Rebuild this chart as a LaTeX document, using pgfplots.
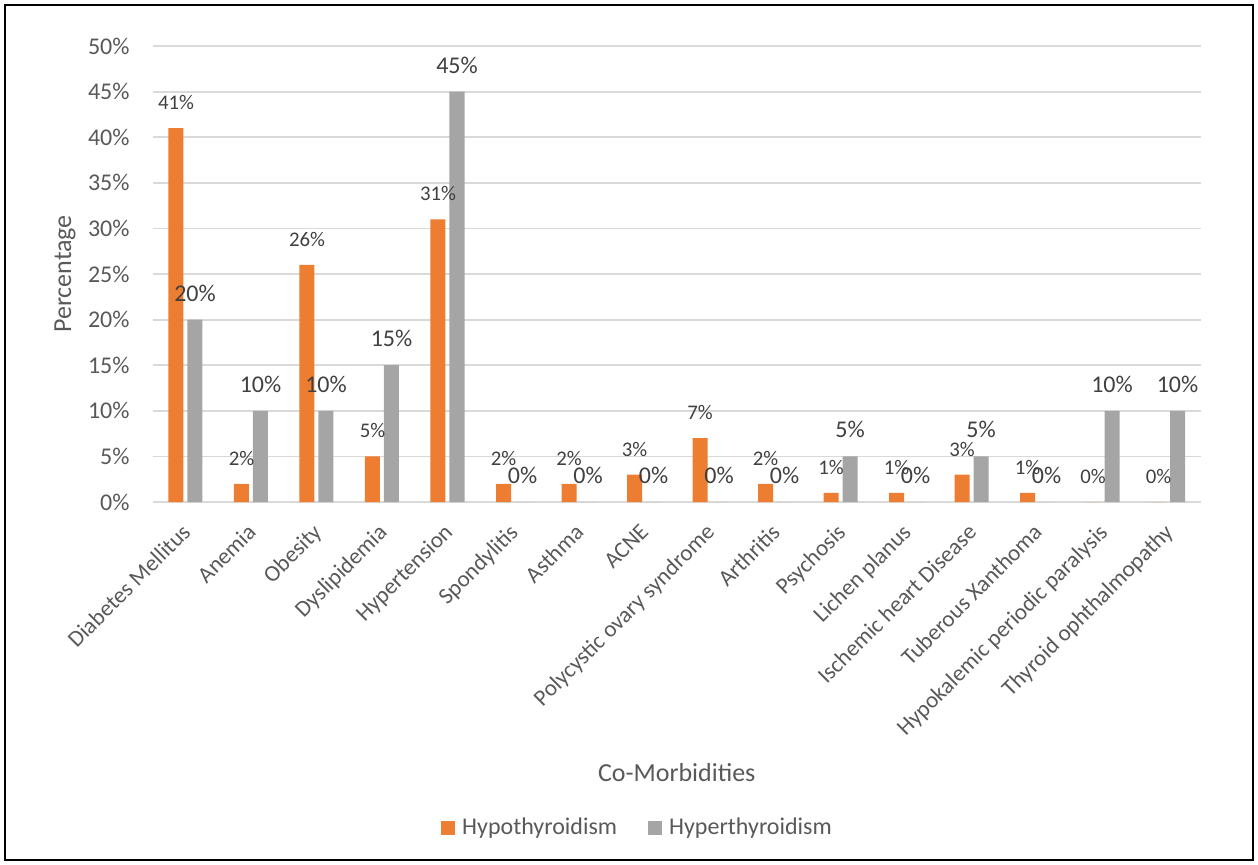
\documentclass[border=0pt]{standalone}
\usepackage{fontspec}
\setmainfont{Carlito}
\usepackage{pgfplots}
\pgfplotsset{compat=1.18}
\definecolor{hypo}{HTML}{ED7D31}
\definecolor{hyper}{HTML}{A5A5A5}
\definecolor{txt}{HTML}{595959}
\definecolor{lbl}{HTML}{404040}
\definecolor{grd}{HTML}{D9D9D9}

\begin{document}
\begin{tikzpicture}
\begin{axis}[
  scale only axis,
  width=524pt, height=228pt,
  ybar=2pt, bar width=7.5pt,
  xmin=-0.5, xmax=15.5, ymin=0, ymax=50,
  xtick={0,...,15},
  xticklabels={Diabetes Mellitus, Anemia, Obesity, Dyslipidemia, Hypertension,
    Spondylitis, Asthma, ACNE, Polycystic ovary syndrome, Arthritis, Psychosis,
    Lichen planus, Ischemic heart Disease, Tuberous Xanthoma,
    Hypokalemic periodic paralysis, Thyroid ophthalmopathy},
  ytick={0,5,...,50},
  yticklabels={0\%,5\%,10\%,15\%,20\%,25\%,30\%,35\%,40\%,45\%,50\%},
  ymajorgrids, major grid style={grd, line width=0.9pt},
  axis line style={draw=none},
  major tick length=0pt,
  tick label style={text=txt},
  yticklabel style={font=\fontsize{12}{14}\selectfont, inner sep=0pt, xshift=-11.4pt},
  xticklabel style={font=\fontsize{11.5}{13}\selectfont, xshift=-2.5pt, yshift=-10pt,
    rotate=45, anchor=north east, inner sep=0pt},
  xlabel={Co-Morbidities}, ylabel={Percentage},
  label style={font=\fontsize{13}{15}\selectfont, text=txt},
  xlabel style={at={(axis description cs:0.5,-0.594)}, anchor=center},
  ylabel style={at={(axis description cs:-0.0838,0.5)}, anchor=center},
  legend style={at={(axis description cs:0.4635,-0.715)}, anchor=center,
    draw=none, font=\fontsize{12}{14}\selectfont, text=txt,
    /tikz/every even column/.append style={column sep=13.5pt}},
  legend columns=2,
  legend image code/.code={\fill[#1] (0pt,-3.5pt) rectangle (7pt,3.5pt); \path (8.5pt,0pt);},
  nodes near coords={\pgfmathprintnumber{\pgfplotspointmeta}\%},
  every node near coord/.append style={anchor=base, yshift=9.25pt, text=lbl, inner sep=0pt},
  /pgf/number format/assume math mode=true,
  clip=false,
]
\addplot[fill=hypo, draw=none,
  every node near coord/.append style={font=\fontsize{10.4}{12}\selectfont}]
  coordinates {(0,41) (1,2) (2,26) (3,5) (4,31) (5,2) (6,2) (7,3) (8,7) (9,2)
    (10,1) (11,1) (12,3) (13,1) (14,0) (15,0)};
\addlegendentry{Hypothyroidism}
\addplot[fill=hyper, draw=none,
  every node near coord/.append style={font=\fontsize{12}{14}\selectfont}]
  coordinates {(0,20) (1,10) (2,10) (3,15) (4,45) (5,0) (6,0) (7,0) (8,0) (9,0)
    (10,5) (11,0) (12,5) (13,0) (14,10) (15,10)};
\addlegendentry{Hyperthyroidism}
% page extent and outer frame
\path (rel axis cs:0,0) ++(-76.375pt,-181pt) rectangle ++(629pt,432pt);
\draw[line width=1.2pt] (rel axis cs:0,0) ++(-73.875pt,-179pt) rectangle ++(624pt,427.5pt);
\end{axis}
\end{tikzpicture}
\end{document}
